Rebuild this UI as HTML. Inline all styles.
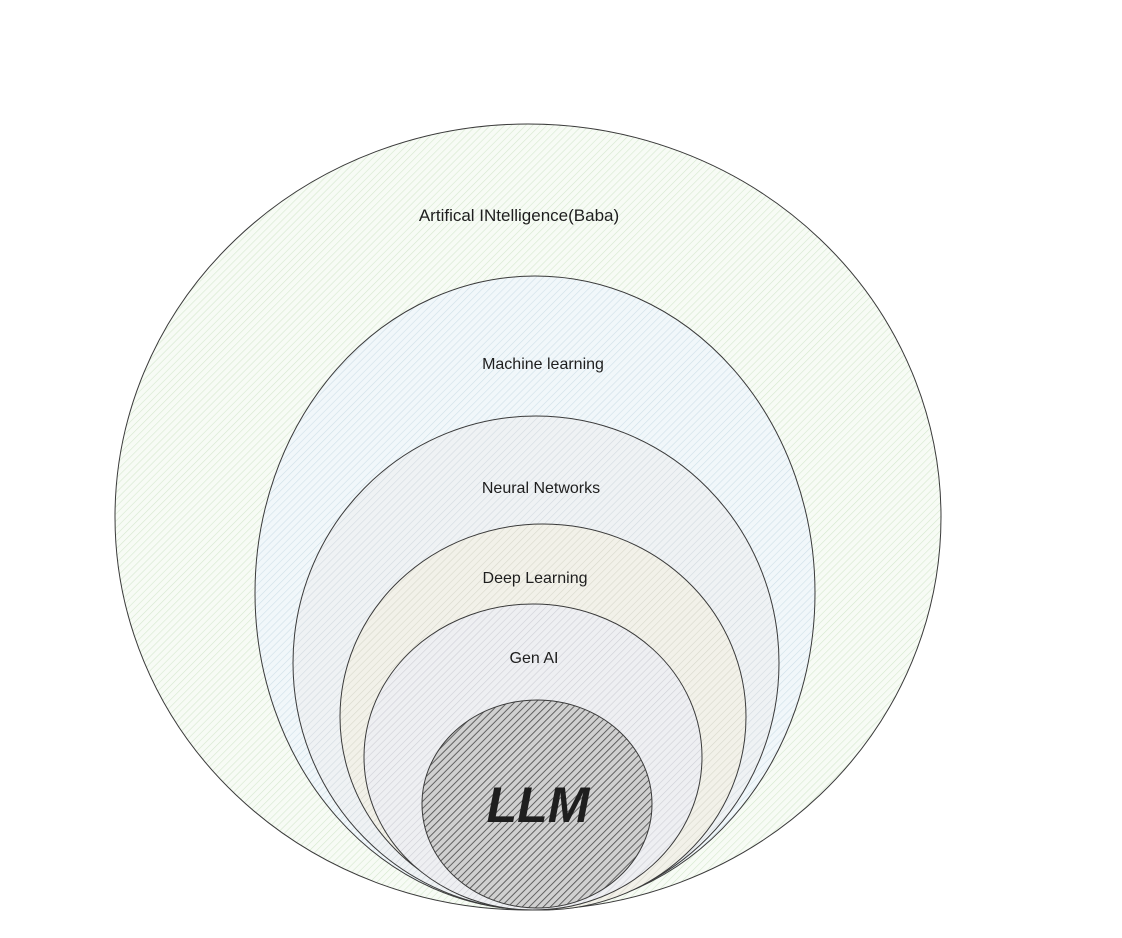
<!DOCTYPE html>
<html><head><meta charset="utf-8"><style>
html,body{margin:0;padding:0;background:#fff;}
svg{display:block;}
text{font-family:"Liberation Sans",sans-serif;fill:#1e1e1e;text-anchor:middle;}
</style></head><body>
<svg width="1122" height="938" viewBox="0 0 1122 938" xmlns="http://www.w3.org/2000/svg">
<defs>
<pattern id="pg" width="5" height="5" patternUnits="userSpaceOnUse" patternTransform="rotate(45)"><rect width="5" height="5" fill="#f7fbf5"/><line x1="0" y1="0" x2="0" y2="5" stroke="#d6e8cf" stroke-width="1.2"/></pattern>
<pattern id="pb" width="5" height="5" patternUnits="userSpaceOnUse" patternTransform="rotate(45)"><rect width="5" height="5" fill="#f1f7fa"/><line x1="0" y1="0" x2="0" y2="5" stroke="#cfe0e8" stroke-width="1.2"/></pattern>
<pattern id="pn" width="5" height="5" patternUnits="userSpaceOnUse" patternTransform="rotate(45)"><rect width="5" height="5" fill="#eff2f4"/><line x1="0" y1="0" x2="0" y2="5" stroke="#d3dbe0" stroke-width="1.2"/></pattern>
<pattern id="pd" width="5" height="5" patternUnits="userSpaceOnUse" patternTransform="rotate(45)"><rect width="5" height="5" fill="#f2f1e9"/><line x1="0" y1="0" x2="0" y2="5" stroke="#d8d8cc" stroke-width="1.2"/></pattern>
<pattern id="pa" width="5" height="5" patternUnits="userSpaceOnUse" patternTransform="rotate(45)"><rect width="5" height="5" fill="#eeeff2"/><line x1="0" y1="0" x2="0" y2="5" stroke="#cfd0d6" stroke-width="1.2"/></pattern>
<pattern id="pl" width="5" height="5" patternUnits="userSpaceOnUse" patternTransform="rotate(45)"><rect width="5" height="5" fill="#d0d0d0"/><line x1="0" y1="0" x2="0" y2="5" stroke="#555" stroke-width="1.8"/></pattern>
</defs>
<g stroke="#3a3a3a" stroke-width="1">
<ellipse cx="528" cy="517" rx="413" ry="393" fill="url(#pg)"/>
<ellipse cx="535" cy="593" rx="280" ry="317" fill="url(#pb)"/>
<ellipse cx="536" cy="663" rx="243" ry="247" fill="url(#pn)"/>
<ellipse cx="543" cy="717" rx="203" ry="193" fill="url(#pd)"/>
<ellipse cx="533" cy="757" rx="169" ry="153" fill="url(#pa)"/>
<ellipse cx="537" cy="804" rx="115" ry="104" fill="url(#pl)"/>
</g>
<text x="519" y="221" font-size="17">Artifical INtelligence(Baba)</text>
<text x="543" y="369" font-size="16">Machine learning</text>
<text x="541" y="493" font-size="16">Neural Networks</text>
<text x="535" y="583" font-size="16">Deep Learning</text>
<text x="534" y="663" font-size="16">Gen AI</text>
<text x="538" y="822" font-size="50" font-style="italic" font-weight="bold">LLM</text>
</svg>
</body></html>
